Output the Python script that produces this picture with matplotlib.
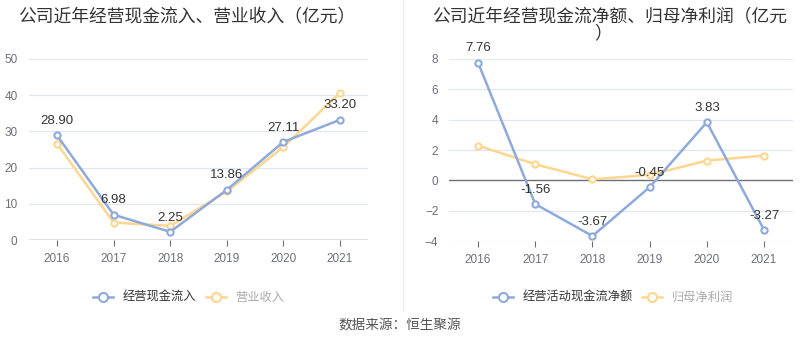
import matplotlib.pyplot as plt
from matplotlib.lines import Line2D

plt.rcParams['font.family'] = ['Liberation Sans', 'Noto Sans CJK SC']

years = ['2016', '2017', '2018', '2019', '2020', '2021']
cash_in = [28.90, 6.98, 2.25, 13.86, 27.11, 33.20]
revenue = [26.6, 4.8, 3.9, 13.4, 25.7, 40.7]
net_cash = [7.76, -1.56, -3.67, -0.45, 3.83, -3.27]
net_profit = [2.29, 1.06, 0.07, 0.36, 1.30, 1.63]

blue = '#8eaadc'
orange = '#fdd690'
grid_c = '#e0e6f1'
axis_c = '#6e7079'
cjk = ['Noto Sans CJK SC', 'DejaVu Sans']

fig = plt.figure(figsize=(8, 3.58), dpi=100)
ax1 = fig.add_axes([0.0359, 0.3296, 0.4245, 0.5056])
ax2 = fig.add_axes([0.5618, 0.3268, 0.4290, 0.5084])


def style(ax, yticks, ylim):
    x = range(len(years))
    ax.set_xlim(-0.5, len(years) - 0.5)
    ax.set_ylim(*ylim)
    ax.set_yticks(yticks)
    ax.set_xticks(list(x))
    ax.set_xticklabels(years)
    for s in ax.spines.values():
        s.set_visible(False)
    for t in yticks:
        if t != 0:
            ax.axhline(t, color=grid_c, lw=0.8, zorder=0)
    ax.axhline(0, color=axis_c, lw=1, zorder=1)
    ax.tick_params(axis='y', length=0, labelsize=8.5, labelcolor=axis_c, pad=8)
    ax.tick_params(axis='x', length=4, color=axis_c, labelsize=8.5,
                   labelcolor=axis_c, pad=5)
    ax.set_facecolor('none')


def draw(ax, vals, color, labels):
    x = range(len(vals))
    ax.plot(x, vals, color=color, lw=1.8, marker='o', ms=4.5,
            mfc='white', mec=color, mew=1.5, zorder=3)
    if labels:
        for i, v in enumerate(vals):
            ax.annotate(f'{v:.2f}', (i, v), xytext=(0, 6),
                        textcoords='offset points', ha='center', va='bottom',
                        fontsize=9.5, color='#333333', zorder=5)


style(ax1, [0, 10, 20, 30, 40, 50], (0, 50))
draw(ax1, revenue, orange, False)
draw(ax1, cash_in, blue, True)
ax1.set_ylim(0, 50)

style(ax2, [-4, -2, 0, 2, 4, 6, 8], (-4, 8))
draw(ax2, net_profit, orange, False)
draw(ax2, net_cash, blue, True)
ax2.set_ylim(-4, 8)

fig.text(0.0225, 0.9525, '公司近年经营现金流入、营业收入（亿元）', fontsize=12.8,
         color='#333333', va='center', family=cjk)
fig.text(0.54, 0.9525, '公司近年经营现金流净额、归母净利润（亿元', fontsize=12.8,
         color='#333333', va='center', family=cjk)
fig.text(0.754, 0.906, '）', fontsize=12.8, color='#333333', va='center',
         ha='center', family=cjk)

fig.add_artist(Line2D([0.504, 0.504], [0.13, 1.0], color='#eeeeee', lw=0.8))


def legend_item(xc, color, text, tcolor):
    y = 1 - 297 / 358
    fig.add_artist(Line2D([xc - 0.0128, xc + 0.0128], [y, y], color=color,
                          lw=1.8))
    fig.add_artist(Line2D([xc], [y], marker='o', ms=6.5, mfc='white', mec=color,
                          mew=1.5, color=color))
    fig.text(xc + 0.0245, y, text, fontsize=8.8, color=tcolor, va='center',
             family=cjk)


legend_item(0.129, blue, '经营现金流入', '#333333')
legend_item(0.270, orange, '营业收入', '#aaaaaa')
legend_item(0.629, blue, '经营活动现金流净额', '#333333')
legend_item(0.815, orange, '归母净利润', '#aaaaaa')

fig.text(0.5, 1 - 325 / 358, '数据来源：恒生聚源', fontsize=9.8, color='#555555',
         ha='center', va='center', family=cjk)

fig.savefig('out.png', dpi=100)
